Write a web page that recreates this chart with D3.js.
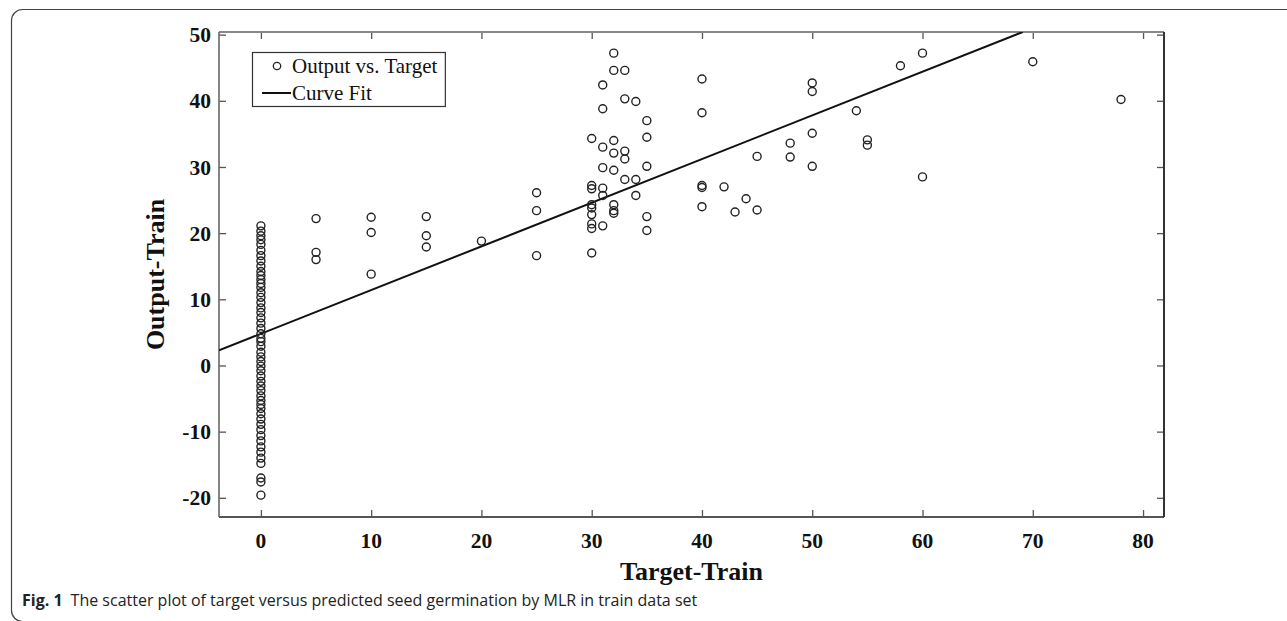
<!DOCTYPE html>
<html>
<head>
<meta charset="utf-8">
<script src="https://cdn.jsdelivr.net/npm/d3@7/dist/d3.min.js"></script>
<style>
  html, body { margin: 0; padding: 0; background: #fff; }
  svg { display: block; }
</style>
</head>
<body>
<svg id="chart" width="1287" height="621"></svg>
<script>
// ---------- DATA ----------
const xTicks = [0, 10, 20, 30, 40, 50, 60, 70, 80];
const yTicks = [-20, -10, 0, 10, 20, 30, 40, 50];

// Target = 0 column (predicted outputs)
const zeroTargetOutputs = [21.1, 20.3, 19.6, 19.0, 18.3, 17.4, 16.6, 15.8, 15.0, 14.2, 13.6, 13.0,
  12.4, 11.8, 11.0, 10.3, 9.5, 8.7, 8.0, 7.2, 6.4, 5.6, 4.8, 4.1, 3.6, 2.9, 2.0, 1.3, 0.6, -0.1,
  -0.8, -1.6, -2.4, -3.1, -3.8, -4.6, -5.3, -5.9, -6.5, -7.3, -8.1, -8.9, -9.7, -10.6, -11.4,
  -12.3, -13.1, -14.0, -14.8, -17.0, -17.6, -19.6];

// Non-zero targets and their outputs
const targets = [5, 5, 5, 10, 10, 10, 15, 15, 15, 20, 25, 25, 25,
  30, 30, 30, 30, 30, 30, 30, 30, 30,
  31, 31, 31, 31, 31, 31, 31,
  32, 32, 32, 32, 32, 32, 32, 32,
  33, 33, 33, 33, 33,
  34, 34, 34,
  35, 35, 35, 35, 35,
  40, 40, 40, 40, 40,
  42, 43, 44, 45, 45, 48, 48, 50, 50, 50, 50, 54, 55, 55, 58, 60, 60, 70, 78];
const outputs = [22.2, 17.1, 16.0, 22.4, 20.1, 13.8, 22.5, 19.6, 17.9, 18.8, 26.1, 23.4, 16.6,
  34.3, 27.2, 26.7, 24.3, 23.8, 22.8, 21.4, 20.7, 17.0,
  42.4, 38.8, 33.0, 29.9, 26.8, 25.7, 21.1,
  47.2, 44.6, 34.0, 32.1, 29.5, 24.3, 23.4, 23.0,
  44.6, 40.3, 32.4, 31.2, 28.1,
  39.9, 28.1, 25.7,
  37.0, 34.5, 30.1, 22.5, 20.4,
  43.3, 38.2, 27.2, 26.9, 24.0,
  27.0, 23.2, 25.2, 31.6, 23.5, 33.6, 31.5, 42.7, 41.4, 35.1, 30.1, 38.5, 34.1, 33.3, 45.3, 47.2, 28.5, 45.9, 40.2];

// Linear fit coefficients
const fitSlope = 0.66;
const fitIntercept = 4.8;

const legendLabels = ["Output vs. Target", "Curve Fit"];
const xLabel = "Target-Train";
const yLabel = "Output-Train";
const captionBold = "Fig. 1";
const captionText = "The scatter plot of target versus predicted seed germination by MLR in train data set";

// ---------- LAYOUT ----------
const svg = d3.select("#chart");
const plot = { left: 219, right: 1164, top: 32, bottom: 517 };
const xDomain = [-3.8, 81.9];
const yDomain = [-22.9, 50.4];
const x = d3.scaleLinear().domain(xDomain).range([plot.left, plot.right]);
const y = d3.scaleLinear().domain(yDomain).range([plot.bottom, plot.top]);

const serif = "'Liberation Serif', 'Times New Roman', serif";

// outer frame (rounded)
svg.append("rect")
  .attr("x", 11.5).attr("y", 9.5).attr("width", 1400).attr("height", 612)
  .attr("rx", 11).attr("fill", "none").attr("stroke", "#444").attr("stroke-width", 1.2);

const points = zeroTargetOutputs.map(v => ({ t: 0, o: v }))
  .concat(targets.map((t, i) => ({ t, o: outputs[i] })));

svg.append("defs").append("clipPath").attr("id", "plotclip")
  .append("rect").attr("x", plot.left).attr("y", plot.top)
  .attr("width", plot.right - plot.left).attr("height", plot.bottom - plot.top);

// axes (ticks inward, on all sides)
const tickLen = 7;
const gB = svg.append("g").attr("transform", `translate(0,${plot.bottom})`)
  .call(d3.axisTop(x).tickValues(xTicks).tickSize(tickLen).tickFormat(""));
const gT = svg.append("g").attr("transform", `translate(0,${plot.top})`)
  .call(d3.axisBottom(x).tickValues(xTicks).tickSize(tickLen).tickFormat(""));
const gL = svg.append("g").attr("transform", `translate(${plot.left},0)`)
  .call(d3.axisRight(y).tickValues(yTicks).tickSize(tickLen).tickFormat(""));
const gR = svg.append("g").attr("transform", `translate(${plot.right},0)`)
  .call(d3.axisLeft(y).tickValues(yTicks).tickSize(tickLen).tickFormat(""));
[gB, gT, gL, gR].forEach(g => {
  g.select(".domain").remove();
  g.selectAll(".tick line").attr("stroke", "#555").attr("stroke-width", 1.3);
});

// frame lines
svg.append("line").attr("x1", plot.left).attr("x2", plot.right).attr("y1", plot.top).attr("y2", plot.top)
  .attr("stroke", "#888").attr("stroke-width", 2);
svg.append("line").attr("x1", plot.left).attr("x2", plot.right).attr("y1", plot.bottom).attr("y2", plot.bottom)
  .attr("stroke", "#555").attr("stroke-width", 1.8);
svg.append("line").attr("x1", plot.left).attr("x2", plot.left).attr("y1", plot.top).attr("y2", plot.bottom)
  .attr("stroke", "#666").attr("stroke-width", 1.6);
svg.append("line").attr("x1", plot.right).attr("x2", plot.right).attr("y1", plot.top).attr("y2", plot.bottom)
  .attr("stroke", "#333").attr("stroke-width", 2);

// tick labels
svg.append("g").selectAll("text").data(xTicks).join("text")
  .attr("x", d => x(d)).attr("y", 548)
  .attr("text-anchor", "middle")
  .attr("font-family", serif).attr("font-weight", "bold").attr("font-size", 21.5)
  .attr("fill", "#111")
  .text(d => d);
svg.append("g").selectAll("text").data(yTicks).join("text")
  .attr("x", 211).attr("y", d => y(d)).attr("dy", "0.35em")
  .attr("text-anchor", "end")
  .attr("font-family", serif).attr("font-weight", "bold").attr("font-size", 21.5)
  .attr("fill", "#111")
  .text(d => d);

// axis titles
svg.append("text").attr("x", (plot.left + plot.right) / 2).attr("y", 580)
  .attr("text-anchor", "middle")
  .attr("font-family", serif).attr("font-weight", "bold").attr("font-size", 26).attr("fill", "#111")
  .text(xLabel);
svg.append("text")
  .attr("transform", `translate(164,${(plot.top + plot.bottom) / 2}) rotate(-90)`)
  .attr("text-anchor", "middle")
  .attr("font-family", serif).attr("font-weight", "bold").attr("font-size", 26).attr("fill", "#111")
  .text(yLabel);

// fit line
const fitEnd = (yDomain[1] - fitIntercept) / fitSlope;
const fitData = [xDomain[0], fitEnd].map(t => ({ t, o: fitSlope * t + fitIntercept }));
svg.append("path")
  .datum(fitData)
  .attr("clip-path", "url(#plotclip)")
  .attr("fill", "none").attr("stroke", "#111").attr("stroke-width", 2)
  .attr("d", d3.line().x(d => x(d.t)).y(d => y(d.o)));

// points
svg.append("g").selectAll("circle").data(points).join("circle")
  .attr("cx", d => x(d.t)).attr("cy", d => y(d.o)).attr("r", 4)
  .attr("fill", "none").attr("stroke", "#222").attr("stroke-width", 1.4);

// legend
const leg = svg.append("g");
const legRect = leg.append("rect").attr("x", 252.5).attr("y", 52.5).attr("height", 54)
  .attr("fill", "#fff").attr("stroke", "#333").attr("stroke-width", 1.2);
leg.append("circle").attr("cx", 277).attr("cy", 66).attr("r", 3.7)
  .attr("fill", "none").attr("stroke", "#222").attr("stroke-width", 1.3);
leg.append("line").attr("x1", 262).attr("x2", 291).attr("y1", 93).attr("y2", 93)
  .attr("stroke", "#111").attr("stroke-width", 2);
const lt1 = leg.append("text").attr("x", 292).attr("y", 73)
  .attr("font-family", serif).attr("font-size", 21).attr("fill", "#111").text(legendLabels[0]);
const lt2 = leg.append("text").attr("x", 292).attr("y", 100)
  .attr("font-family", serif).attr("font-size", 21).attr("fill", "#111").text(legendLabels[1]);
const lw = Math.max(lt1.node().getComputedTextLength(), lt2.node().getComputedTextLength());
legRect.attr("width", 292 + lw + 8 - 252.5);

// caption
const cap = svg.append("text").attr("x", 22).attr("y", 606)
  .attr("font-family", "'Open Sans', 'Noto Sans', sans-serif").attr("font-size", 16).attr("fill", "#222");
cap.append("tspan").attr("font-weight", "bold").text(captionBold);
cap.append("tspan").attr("dx", 8).text(captionText);
</script>
</body>
</html>
